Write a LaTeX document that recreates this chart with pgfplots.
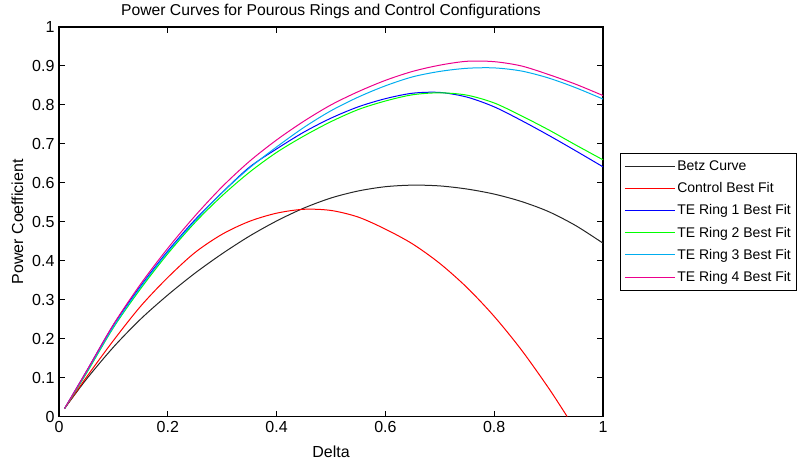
\documentclass[border=0pt]{standalone}
\usepackage{fontspec}
\setmainfont{Liberation Sans}
\usepackage{pgfplots}
\pgfplotsset{compat=1.18}

\begin{document}
\begin{tikzpicture}
% page size like the reference: legend runs off the right edge
\useasboundingbox (-59pt,-52.5pt) rectangle (738pt,416.5pt);
\begin{axis}[
    scale only axis,
    width=544pt, height=389.5pt,
    xmin=0, xmax=1, ymin=0, ymax=1,
    xtick={0,0.2,...,1}, ytick={0,0.1,...,1},
    tick align=inside, tick pos=both,
    major tick length=6pt,
    axis line style={line width=1.1pt},
    tick style={line width=0.9pt, black},
    /pgf/number format/assume math mode=true,
    /pgf/number format/fixed,
    ticklabel style={font=\fontsize{16}{18}\selectfont},
    yticklabel style={xshift=-1pt},
    xticklabel style={yshift=-1pt},
    title={Power Curves for Pourous Rings and Control Configurations},
    title style={font=\fontsize{15.7}{18}\selectfont, at={(0.5,1)}, anchor=south, yshift=-1pt},
    xlabel={Delta}, ylabel={Power Coefficient},
    label style={font=\fontsize{16}{18}\selectfont},
    xlabel style={yshift=-7pt},
    ylabel style={yshift=2pt},
    legend style={at={(1.031,0.6765)}, anchor=north west, draw=black,
        font=\fontsize{14}{16}\selectfont, line width=0.8pt,
        row sep=6.5pt, inner ysep=5.5pt, inner xsep=4pt},
    legend cell align=left,
    legend image code/.code={\draw[#1, line width=1pt] (0pt,0pt) -- (50pt,0pt);},
    every axis plot/.append style={line width=1pt, smooth},
]
% Betz curve
\addplot[color=black!85, draw=black!85] coordinates {
    (0.01,0.02) (0.05,0.095) (0.1,0.178) (0.15,0.25) (0.2,0.312) (0.25,0.368)
    (0.3,0.418) (0.35,0.463) (0.4,0.502) (0.45,0.535) (0.5,0.561) (0.55,0.579)
    (0.6,0.59) (0.65,0.594) (0.7,0.592) (0.75,0.584) (0.8,0.571) (0.85,0.552)
    (0.9,0.526) (0.95,0.49) (1.0,0.445)
};
\addlegendentry{Betz Curve}
% control
\addplot[color=red, draw=red] coordinates {
    (0.01,0.02) (0.05,0.1) (0.1,0.195) (0.15,0.283) (0.2,0.357) (0.25,0.421)
    (0.3,0.468) (0.35,0.501) (0.4,0.522) (0.45,0.532) (0.5,0.529) (0.55,0.512)
    (0.6,0.481) (0.65,0.443) (0.7,0.393) (0.75,0.331) (0.8,0.257) (0.85,0.171)
    (0.9,0.073) (0.934,0.0)
};
\addlegendentry{Control Best Fit}
% TE ring 1
\addplot[color=blue, draw=blue] coordinates {
    (0.01,0.02) (0.05,0.115) (0.1,0.235) (0.15,0.335) (0.2,0.425) (0.25,0.505)
    (0.3,0.575) (0.35,0.64) (0.4,0.687) (0.45,0.73) (0.5,0.766) (0.55,0.795)
    (0.6,0.816) (0.65,0.83) (0.7,0.832) (0.75,0.82) (0.8,0.795) (0.85,0.76)
    (0.9,0.722) (0.95,0.682) (1.0,0.641)
};
\addlegendentry{TE Ring 1 Best Fit}
% TE ring 2
\addplot[color=green, draw=green] coordinates {
    (0.01,0.02) (0.05,0.11) (0.1,0.228) (0.15,0.328) (0.2,0.418) (0.25,0.498)
    (0.3,0.567) (0.35,0.627) (0.4,0.678) (0.45,0.72) (0.5,0.757) (0.55,0.788)
    (0.6,0.81) (0.65,0.826) (0.7,0.831) (0.75,0.825) (0.8,0.805) (0.85,0.772)
    (0.9,0.736) (0.95,0.697) (1.0,0.659)
};
\addlegendentry{TE Ring 2 Best Fit}
% TE ring 3
\addplot[color=cyan, draw=cyan] coordinates {
    (0.01,0.02) (0.05,0.112) (0.1,0.23) (0.15,0.332) (0.2,0.422) (0.25,0.502)
    (0.3,0.575) (0.35,0.638) (0.4,0.692) (0.45,0.742) (0.5,0.785) (0.55,0.82)
    (0.6,0.849) (0.65,0.872) (0.7,0.886) (0.75,0.894) (0.8,0.895) (0.85,0.887)
    (0.9,0.869) (0.95,0.844) (1.0,0.815)
};
\addlegendentry{TE Ring 3 Best Fit}
% TE ring 4
\addplot[color=magenta, draw=magenta] coordinates {
    (0.01,0.02) (0.05,0.115) (0.1,0.236) (0.15,0.34) (0.2,0.432) (0.25,0.515)
    (0.3,0.59) (0.35,0.655) (0.4,0.71) (0.45,0.758) (0.5,0.8) (0.55,0.834)
    (0.6,0.863) (0.65,0.886) (0.7,0.902) (0.75,0.912) (0.8,0.911) (0.85,0.9)
    (0.9,0.878) (0.95,0.853) (1.0,0.824)
};
\addlegendentry{TE Ring 4 Best Fit}
\end{axis}
\end{tikzpicture}
\end{document}
